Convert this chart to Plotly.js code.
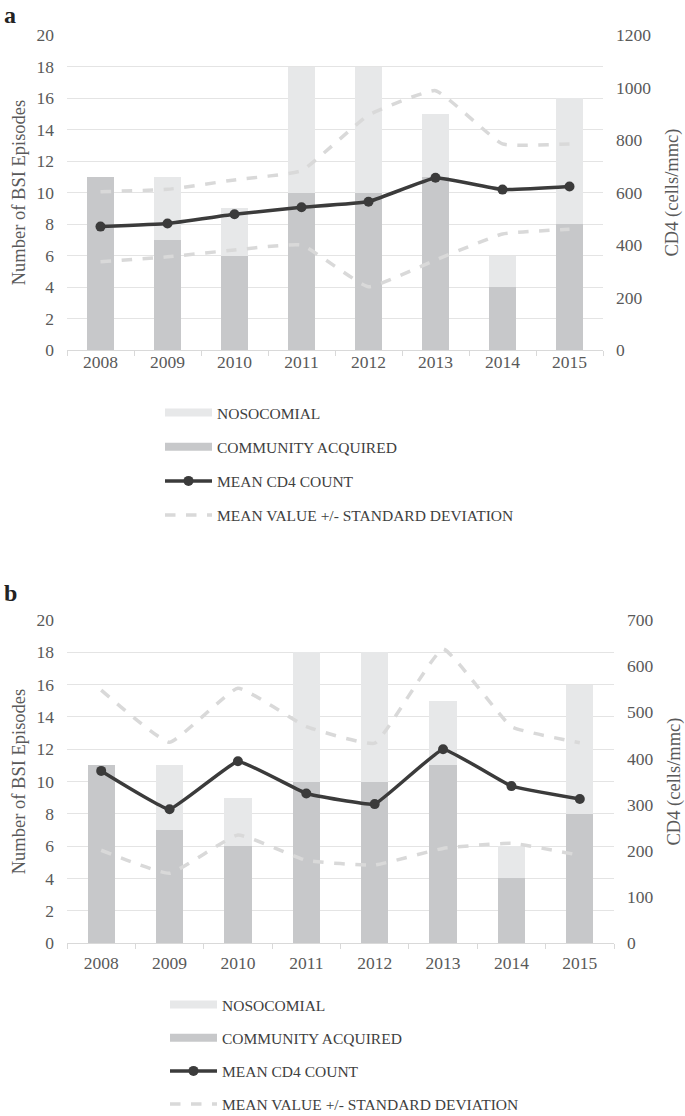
<!DOCTYPE html>
<html>
<head>
<meta charset="utf-8">
<script src="https://cdn.plot.ly/plotly-3.0.1.min.js"></script>
<style>html,body{margin:0;padding:0;background:#fff;}#chart{width:685px;height:1116px;}</style>
</head>
<body>
<div id="chart"></div>
<script>
// ---- data ----
const years = ['2008','2009','2010','2011','2012','2013','2014','2015'];
const communityAcquired = [11, 7, 6, 10, 10, 11, 4, 8];
const nosocomial = [0, 4, 3, 8, 8, 4, 2, 8];

// panel a: CD4 (cells/mmc)
const meanCD4_a = [470, 482, 517, 544, 565, 656, 611, 623];
const upperSD_a = [603, 612, 648, 683, 895, 988, 785, 785];
const lowerSD_a = [336, 355, 381, 400, 241, 343, 442, 460];

// panel b: CD4 (cells/mmc)
const meanCD4_b = [373, 290, 394, 324, 301, 420, 340, 312];
const upperSD_b = [548, 435, 552, 469, 433, 637, 469, 434];
const lowerSD_b = [201, 151, 234, 179, 169, 205, 216, 190];

const leftTicks = [0,2,4,6,8,10,12,14,16,18,20];
const rightTicks_a = [0,200,400,600,800,1000,1200];
const rightTicks_b = [0,100,200,300,400,500,600,700];

const labels = {
  noso: 'NOSOCOMIAL',
  comm: 'COMMUNITY ACQUIRED',
  mean: 'MEAN CD4 COUNT',
  sd: 'MEAN VALUE +/- STANDARD DEVIATION'
};

// ---- styles ----
const FONT = 'Liberation Serif, Times New Roman, serif';
const C_COMM = '#c7c8ca';
const C_NOSO = '#e7e8e9';
const C_MEAN = '#3b3b3b';
const C_SD = '#d9d9d9';
const TXT = '#595959';

function panelTraces(xa, ya, ya2, legendId, mean, up, lo) {
  const t = [];
  t.push({type:'bar', x: years, y: communityAcquired, xaxis: xa, yaxis: ya,
    marker:{color:C_COMM}, showlegend:false, hoverinfo:'skip'});
  t.push({type:'bar', x: years, y: nosocomial, xaxis: xa, yaxis: ya,
    marker:{color:C_NOSO}, showlegend:false, hoverinfo:'skip'});
  t.push({type:'scatter', mode:'lines', x: years, y: up, xaxis: xa, yaxis: ya2,
    line:{color:C_SD, width:3.5, dash:'dash', shape:'spline', smoothing:0.35},
    showlegend:false});
  t.push({type:'scatter', mode:'lines', x: years, y: lo, xaxis: xa, yaxis: ya2,
    line:{color:C_SD, width:3.5, dash:'dash', shape:'spline', smoothing:0.35},
    showlegend:false});
  t.push({type:'scatter', mode:'lines+markers', x: years, y: mean, xaxis: xa, yaxis: ya2,
    line:{color:C_MEAN, width:3.5, shape:'spline', smoothing:0.25},
    marker:{color:C_MEAN, size:10}, showlegend:false});
  // legend keys (no data points)
  t.push({type:'scatter', mode:'lines', x:[null], y:[null], xaxis: xa, yaxis: ya2,
    line:{color:C_NOSO, width:8}, name: labels.noso, legend: legendId, legendgroup: legendId+'g1'});
  t.push({type:'scatter', mode:'lines', x:[null], y:[null], xaxis: xa, yaxis: ya2,
    line:{color:C_COMM, width:8}, name: labels.comm, legend: legendId, legendgroup: legendId+'g2'});
  t.push({type:'scatter', mode:'lines+markers', x:[null], y:[null], xaxis: xa, yaxis: ya2,
    line:{color:C_MEAN, width:3.5}, marker:{color:C_MEAN, size:10}, name: labels.mean, legend: legendId, legendgroup: legendId+'g3'});
  t.push({type:'scatter', mode:'lines', x:[null], y:[null], xaxis: xa, yaxis: ya2,
    line:{color:C_SD, width:3.5, dash:'dash'}, name: labels.sd, legend: legendId, legendgroup: legendId+'g4'});
  return t;
}

const data = [].concat(
  panelTraces('x','y','y2','legend', meanCD4_a, upperSD_a, lowerSD_a),
  panelTraces('x2','y3','y4','legend2', meanCD4_b, upperSD_b, lowerSD_b)
);

const H = 1116, W = 685;
const py = px => 1 - px / H;
const pxX = px => px / W;

function xAxis(domain, anchor, standoff) {
  return {domain: domain, anchor: anchor, type:'category',
    categoryorder:'array', categoryarray: years, range:[-0.5, years.length - 0.5],
    showgrid:false, showline:true, linecolor:'#d9d9d9', linewidth:1,
    ticks:'outside', tickson:'boundaries', ticklen:5, tickcolor:'#d9d9d9',
    tickfont:{family:FONT, size:17.5, color:TXT}, ticklabelstandoff: standoff,
    zeroline:false, fixedrange:true};
}
function leftAxis(domain, anchor) {
  return {domain: domain, anchor: anchor, range:[0,20], tickvals: leftTicks,
    showgrid:true, gridcolor:'#e4e4e4', gridwidth:1, zeroline:false, showline:false,
    ticks:'', ticklabelstandoff: 12,
    tickfont:{family:FONT, size:17.5, color:TXT},
    title:{text:'Number of BSI Episodes', font:{family:FONT, size:18.5, color:TXT}, standoff:6},
    automargin:true, fixedrange:true};
}
function rightAxis(overlay, anchor, range, ticks) {
  return {overlaying: overlay, anchor: anchor, side:'right', range: range, tickvals: ticks,
    showgrid:false, zeroline:false, showline:false, ticks:'', ticklabelstandoff: 12,
    tickfont:{family:FONT, size:17.5, color:TXT},
    title:{text:'CD4 (cells/mmc)', font:{family:FONT, size:18.5, color:TXT}, standoff:14},
    automargin:true, fixedrange:true};
}

function legendCfg(xpx, ypx, gap) {
  return {x: pxX(xpx), y: py(ypx), xanchor:'left', yanchor:'top', orientation:'v',
    font:{family:FONT, size:15.5, color:'#404040'}, itemwidth:47, traceorder:'grouped',
    tracegroupgap: gap, bgcolor:'rgba(0,0,0,0)'};
}

const layout = {
  width: W, height: H,
  margin:{l:0, r:0, t:0, b:0, autoexpand:false},
  paper_bgcolor:'#fff', plot_bgcolor:'#fff',
  barmode:'stack', bargap:0.6,
  font:{family:FONT, color:TXT},
  showlegend:true,
  xaxis: xAxis([pxX(67), pxX(603)], 'y', -4),
  yaxis: leftAxis([py(350), py(35)], 'x'),
  yaxis2: rightAxis('y', 'x', [0,1200], rightTicks_a),
  xaxis2: xAxis([pxX(67), pxX(614)], 'y3', 4),
  yaxis3: leftAxis([py(943), py(620)], 'x2'),
  yaxis4: rightAxis('y3', 'x2', [0,700], rightTicks_b),
  legend: legendCfg(160, 396, 11),
  legend2: legendCfg(165, 988, 10),
  annotations: [
    {text:'<b>a</b>', xref:'paper', yref:'paper', x: pxX(2), y: py(0), xanchor:'left', yanchor:'top',
      showarrow:false, font:{family:FONT, size:24, color:'#222'}},
    {text:'<b>b</b>', xref:'paper', yref:'paper', x: pxX(2), y: py(578), xanchor:'left', yanchor:'top',
      showarrow:false, font:{family:FONT, size:24, color:'#222'}},
    {text:'p<0.0001', xref:'x', yref:'y2', x: years[7], y: 760, xanchor:'center', yanchor:'middle',
      showarrow:false, font:{family:FONT, size:15, color:'#404040'}},
    {text:'p= 0.544', xref:'x2', yref:'y4', x: years[7], y: 405, xanchor:'center', yanchor:'middle',
      showarrow:false, font:{family:FONT, size:15, color:'#404040'}}
  ]
};

Plotly.newPlot('chart', data, layout, {displayModeBar:false, staticPlot:true});
</script>
</body>
</html>
